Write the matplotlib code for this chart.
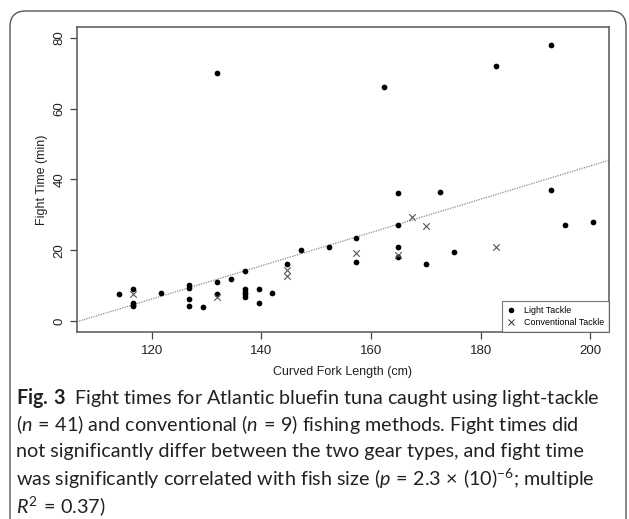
import matplotlib
matplotlib.use('Agg')
import matplotlib.pyplot as plt
from matplotlib.patches import FancyBboxPatch
from matplotlib.lines import Line2D

# light tackle catches (curved fork length cm, fight time min)
light_x = [114.1, 116.6, 116.6, 116.6, 116.6, 121.7, 126.8, 126.8, 126.8, 126.8,
           129.4, 131.9, 131.9, 131.9, 134.5, 137.0, 137.0, 137.0, 137.0, 137.0,
           139.5, 139.5, 142.0, 144.6, 147.2, 152.3, 157.3, 157.3, 162.4, 164.9,
           164.9, 164.9, 164.9, 170.0, 172.6, 175.1, 182.8, 192.9, 192.9, 195.4, 200.5]
light_y = [7.5, 9.0, 5.1, 4.6, 4.1, 8.0, 10.2, 9.2, 6.1, 4.1,
           4.0, 11.0, 7.5, 70.0, 12.0, 14.0, 9.0, 8.2, 7.5, 6.9,
           9.0, 5.0, 8.0, 16.1, 20.0, 21.0, 23.5, 16.6, 66.0, 36.1,
           27.0, 21.0, 18.0, 16.1, 36.5, 19.6, 72.0, 78.0, 36.9, 27.0, 28.0]

# conventional tackle catches
conv_x = [116.6, 131.9, 144.6, 144.6, 157.3, 164.9, 167.5, 170.0, 182.8]
conv_y = [7.6, 6.9, 14.4, 12.6, 19.1, 18.7, 29.5, 26.9, 21.0]

# fitted regression line
fit_intercept = -50.2
fit_slope = 0.47

x_ticks = [120, 140, 160, 180, 200]
y_ticks = [0, 20, 40, 60, 80]

plt.rcParams['font.family'] = ['Liberation Sans', 'DejaVu Sans']
plt.rcParams['mathtext.fontset'] = 'custom'
plt.rcParams['mathtext.rm'] = 'Lato'
plt.rcParams['mathtext.it'] = 'Lato:italic'
plt.rcParams['mathtext.bf'] = 'Lato:bold'

fig = plt.figure(figsize=(6.29, 5.19), dpi=100)
fig.patch.set_facecolor('white')

# rounded panel border
border = FancyBboxPatch((10 / 629, -0.05), 616 / 629, 1 - 11 / 519 + 0.05,
                        boxstyle="round,pad=0,rounding_size=0.025",
                        transform=fig.transFigure, facecolor='none',
                        edgecolor='#555555', linewidth=1.0, mutation_aspect=629 / 519)
fig.patches.append(border)

ax = fig.add_axes([76.7 / 629, 1 - 332 / 519, (609 - 76.7) / 629, (332 - 26.7) / 519])
ax.set_xlim(106.3, 203.4)
ax.set_ylim(-3.1, 83.1)

ax.axline((0, fit_intercept), slope=fit_slope, color='#888888', linestyle=(0, (1, 1)),
          linewidth=0.9, zorder=1)
ax.scatter(light_x, light_y, s=17, color='black', marker='o', linewidths=0, zorder=3)
ax.scatter(conv_x, conv_y, s=22, color='#555555', marker='x', linewidths=0.8, zorder=3)

ax.set_xticks(x_ticks)
ax.set_yticks(y_ticks)
ax.tick_params(axis='both', direction='out', length=5, width=0.9, color='#444444',
               labelsize=9.5, labelcolor='#222222')
ax.tick_params(axis='x', pad=4)
ax.tick_params(axis='y', pad=3)
for lab in ax.get_yticklabels():
    lab.set_rotation(90)
    lab.set_va('center')
for sp in ax.spines.values():
    sp.set_color('#555555')
    sp.set_linewidth(1.1)

ax.set_xlabel('Curved Fork Length (cm)', fontsize=9, color='#222222', labelpad=7)
ax.set_ylabel('Fight Time (min)', fontsize=9, color='#222222', labelpad=4)

handles = [Line2D([], [], marker='o', linestyle='none', color='black', markersize=3),
           Line2D([], [], marker='x', linestyle='none', color='#333333', markersize=4.5,
                  markeredgewidth=0.7)]
leg = ax.legend(handles, ['Light Tackle', 'Conventional Tackle'], loc='lower right',
                fontsize=6.4, frameon=True, fancybox=False, borderaxespad=0,
                handletextpad=0.9, handlelength=1.0, borderpad=0.55, labelspacing=0.35)
leg.get_frame().set_edgecolor('#555555')
leg.get_frame().set_linewidth(0.8)

# caption
caption = [
    r"$\mathbf{Fig.\,3}$  Fight times for Atlantic bluefin tuna caught using light-tackle",
    r"($n\,=\,41$) and conventional ($n\,=\,9$) fishing methods. Fight times did",
    r"not significantly differ between the two gear types, and fight time",
    r"was significantly correlated with fish size ($p\,=\,2.3\,\times\,(10)^{-6}$; multiple",
    r"$R^2\,=\,0.37$)",
]
y0 = 398
for i, line in enumerate(caption):
    fig.text(16 / 629, 1 - (y0 + 27 * i) / 519, line, family='Lato', fontsize=14.2,
             color='#222222', va='center', ha='left')

fig.savefig('out.png', dpi=100)
